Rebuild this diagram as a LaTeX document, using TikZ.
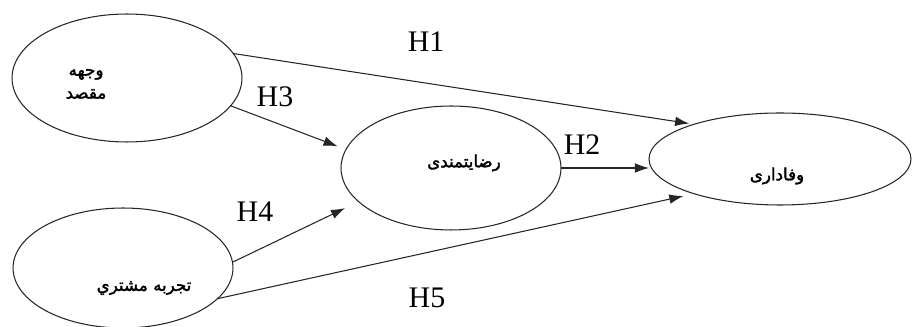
\documentclass[tikz,border=0pt]{standalone}
\usepackage{fontspec}
\setmainfont{Liberation Serif}
\newfontfamily\arabicfont[Script=Arabic, FakeBold=2]{DejaVu Sans}
\TeXXeTstate=1
\usetikzlibrary{shapes.geometric, arrows.meta}

\begin{document}
\begin{tikzpicture}[
        x=0.02cm, y=-0.02cm,
        construct/.style={ellipse, draw=black!85, semithick, inner sep=0pt, outer sep=0pt},
        farsi/.style={font=\arabicfont\fontsize{9.5}{13}\selectfont, align=center, inner sep=0pt},
        hyp/.style={font=\fontsize{17}{17}\selectfont, inner sep=0pt},
        arrow/.style={-{Latex[length=8pt, width=5.5pt]}, semithick, black!85}
    ]
    \useasboundingbox (0,0) rectangle (914,327);

    % سازه ها
    \node[construct, minimum width=4.6cm, minimum height=2.56cm] (dest) at (127,78) {};
    \node[construct, minimum width=4.4cm, minimum height=2.4cm] (exp) at (123,268) {};
    \node[construct, minimum width=4.4cm, minimum height=2.48cm] (sat) at (451,168) {};
    \node[construct, minimum width=5.24cm, minimum height=1.84cm] (loy) at (780,159) {};

    % متن سازه ها
    \node[farsi] (destText) at ([shift={(-41,6)}]dest.center) {\beginR وجهه\endR\\\beginR مقصد\endR};
    \node[farsi] (expText) at ([shift={(21,20)}]exp.center) {\beginR تجربه مشتري\endR};
    \node[farsi] (satText) at ([shift={(13,-5)}]sat.center) {\beginR رضایتمندی\endR};
    \node[farsi] (loyText) at ([shift={(-3,17)}]loy.center) {\beginR وفاداری\endR};

    % فرضیه ها
    \draw[arrow, shorten >=0.1cm] (dest.13.9) -- (loy.158.8);
    \draw[arrow] (sat.east) -- (loy.west |- sat.east);
    \draw[arrow, shorten >=0.18cm] (dest.-15.3) -- (sat.170);
    \draw[arrow, shorten >=0.3cm] (exp.3) -- (sat.200);
    \draw[arrow, shorten >=0.22cm] (exp.-18.6) -- (loy.202.3);

    \node[hyp] (h1) at (426,42) {H1};
    \node[hyp] (h2) at (582,145) {H2};
    \node[hyp] (h3) at (275,97) {H3};
    \node[hyp] (h4) at (255,212) {H4};
    \node[hyp] (h5) at (427,298) {H5};
\end{tikzpicture}
\end{document}
